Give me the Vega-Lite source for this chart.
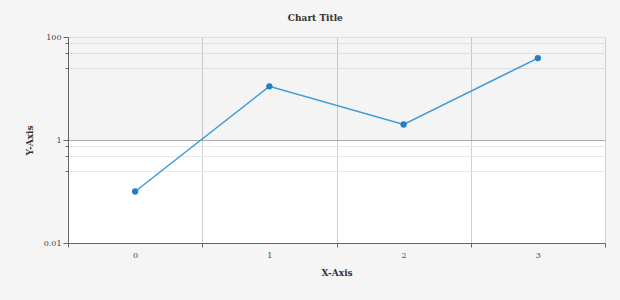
{
  "$schema": "https://vega.github.io/schema/vega-lite/v6.json",
  "autosize": "none",
  "width": 537,
  "height": 206,
  "padding": {"left": 68, "top": 37, "right": 15, "bottom": 57},
  "background": "#f5f5f5",
  "config": {
    "font": "DejaVu Serif",
    "view": {"fill": "white", "stroke": "#cccccc", "strokeWidth": 1}
  },
  "title": {
    "text": "Chart Title",
    "anchor": "middle",
    "frame": "bounds",
    "fontSize": 9,
    "fontWeight": "bold",
    "color": "#333333",
    "offset": 10
  },
  "datasets": {
    "series": [
      {"x": "0", "y": 0.1},
      {"x": "1", "y": 11},
      {"x": "2", "y": 2},
      {"x": "3", "y": 39}
    ],
    "bands": [
      {"lo": 1, "hi": 100}
    ]
  },
  "layer": [
    {
      "data": {"name": "bands"},
      "mark": {"type": "rect", "fill": "black", "fillOpacity": 0.045},
      "encoding": {
        "y": {"field": "lo", "type": "quantitative", "scale": {"type": "log", "domain": [0.01, 100]}},
        "y2": {"field": "hi"}
      }
    },
    {
      "data": {"name": "series"},
      "mark": {"type": "line", "color": "#3d9ad8", "strokeWidth": 1.5},
      "encoding": {
        "x": {
          "field": "x",
          "type": "ordinal",
          "scale": {"paddingInner": 0, "paddingOuter": 0},
          "axis": {
            "title": "X-Axis",
            "titleFontSize": 9,
            "titleFontWeight": "bold",
            "titleColor": "#333333",
            "titlePadding": 9,
            "labelAngle": 0,
            "labelFontSize": 8,
            "labelColor": "#444444",
            "labelPadding": 4,
            "tickBand": "extent",
            "tickSize": 4,
            "tickColor": "#666666",
            "domainColor": "#666666",
            "grid": true,
            "gridColor": "#d0d0d0"
          }
        },
        "y": {
          "field": "y",
          "type": "quantitative",
          "scale": {"type": "log", "domain": [0.01, 100]},
          "axis": {
            "title": "Y-Axis",
            "titleFontSize": 9,
            "titleFontWeight": "bold",
            "titleColor": "#333333",
            "titlePadding": 9,
            "values": [0.01, 0.25, 0.5, 0.75, 1, 25, 50, 75, 100],
            "labelExpr": "datum.value == 0.01 || datum.value == 1 || datum.value == 100 ? datum.label : ''",
            "format": "~g",
            "labelFontSize": 8,
            "labelColor": "#444444",
            "labelPadding": 2,
            "tickSize": {"condition": {"test": "datum.value == 0.01 || datum.value == 1 || datum.value == 100", "value": 5}, "value": 3},
            "tickColor": "#666666",
            "domainColor": "#666666",
            "grid": true,
            "gridColor": {"condition": {"test": "datum.value == 1", "value": "#aaaaaa"}, "value": "#e8e8e8"}
          }
        }
      }
    },
    {
      "data": {"name": "series"},
      "mark": {"type": "point", "filled": true, "color": "#1f80c8", "size": 40, "opacity": 1},
      "encoding": {
        "x": {"field": "x", "type": "ordinal"},
        "y": {"field": "y", "type": "quantitative"}
      }
    }
  ]
}
